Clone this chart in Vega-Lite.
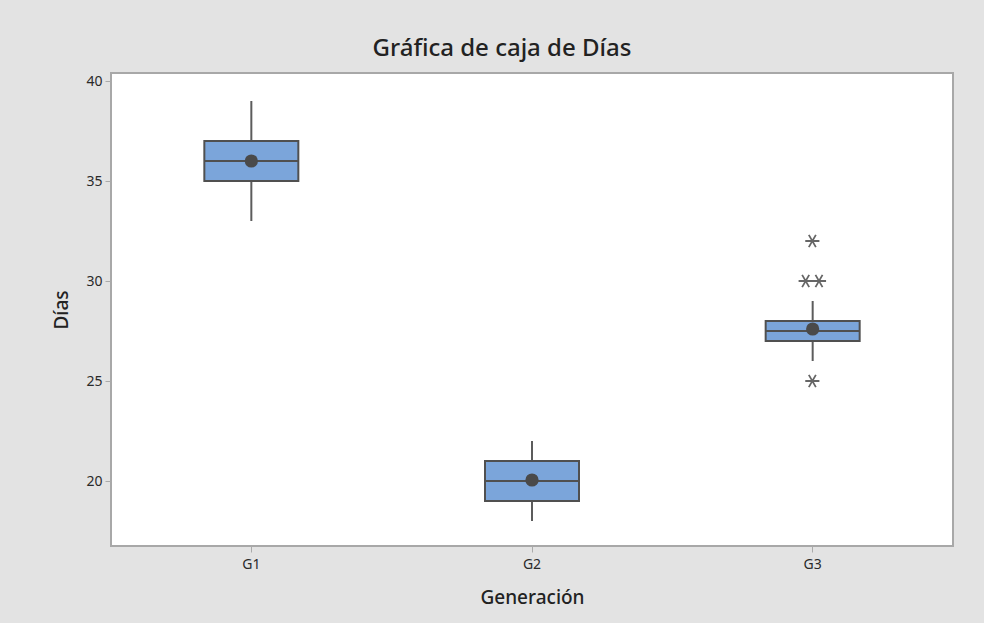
{
  "$schema": "https://vega.github.io/schema/vega-lite/v6.json",
  "width": 842,
  "height": 473,
  "autosize": {"type": "none"},
  "padding": {"left": 111, "top": 73, "right": 31, "bottom": 77},
  "background": "#e3e3e3",
  "title": {
    "text": "Gráfica de caja de Días",
    "font": "Noto Sans",
    "fontSize": 24,
    "fontWeight": 500,
    "color": "#222222",
    "anchor": "middle",
    "dx": -30,
    "offset": 12
  },
  "config": {
    "view": {"fill": "#ffffff", "stroke": "#a8a8a8", "strokeWidth": 2},
    "axis": {
      "labelFont": "Noto Sans",
      "titleFont": "Noto Sans",
      "labelColor": "#2a2a2a",
      "titleColor": "#222222",
      "labelFontSize": 14,
      "titleFontSize": 19,
      "titleFontWeight": 500,
      "tickColor": "#aaaaaa",
      "tickSize": 6,
      "domain": false,
      "grid": false
    }
  },
  "datasets": {
    "boxes": [
      {"grupo": "G1", "lo": 33, "q1": 35, "mediana": 36, "q3": 37, "hi": 39, "media": 36.0},
      {"grupo": "G2", "lo": 18, "q1": 19, "mediana": 20, "q3": 21, "hi": 22, "media": 20.05},
      {"grupo": "G3", "lo": 26, "q1": 27, "mediana": 27.5, "q3": 28, "hi": 29, "media": 27.6}
    ],
    "outliers": [
      {"grupo": "G3", "dias": 32, "empate": "C"},
      {"grupo": "G3", "dias": 30, "empate": "L"},
      {"grupo": "G3", "dias": 30, "empate": "R"},
      {"grupo": "G3", "dias": 25, "empate": "C"}
    ]
  },
  "layer": [
    {
      "data": {"name": "boxes"},
      "mark": {"type": "rule", "color": "#5c5c5c", "strokeWidth": 2},
      "encoding": {
        "x": {
          "field": "grupo", "type": "nominal",
          "scale": {"type": "band", "domain": ["G1", "G2", "G3"], "paddingInner": 0, "paddingOuter": 0},
          "axis": {"title": "Generación", "labelAngle": 0, "labelPadding": 5, "titlePadding": 17}
        },
        "y": {
          "field": "lo", "type": "quantitative",
          "scale": {"domain": [16.75, 40.4], "nice": false, "zero": false},
          "axis": {"title": "Días", "values": [20, 25, 30, 35, 40], "labelPadding": 3, "titlePadding": 14}
        },
        "y2": {"field": "hi"}
      }
    },
    {
      "data": {"name": "boxes"},
      "mark": {"type": "bar", "width": 94, "fill": "#7ba5da", "stroke": "#505050", "strokeWidth": 2},
      "encoding": {
        "x": {"field": "grupo", "type": "nominal"},
        "y": {"field": "q1", "type": "quantitative"},
        "y2": {"field": "q3"}
      }
    },
    {
      "data": {"name": "boxes"},
      "mark": {"type": "tick", "size": 94, "thickness": 2, "color": "#505050", "opacity": 1},
      "encoding": {
        "x": {"field": "grupo", "type": "nominal"},
        "y": {"field": "mediana", "type": "quantitative"}
      }
    },
    {
      "data": {"name": "boxes"},
      "mark": {"type": "point", "shape": "circle", "filled": true, "size": 175, "color": "#4a4a4a", "opacity": 1},
      "encoding": {
        "x": {"field": "grupo", "type": "nominal"},
        "y": {"field": "media", "type": "quantitative"}
      }
    },
    {
      "data": {"name": "outliers"},
      "mark": {
        "type": "point",
        "shape": "M-1,0L1,0M-0.5,-0.866L0.5,0.866M-0.5,0.866L0.5,-0.866",
        "filled": false,
        "size": 200,
        "strokeWidth": 1.8,
        "color": "#666666",
        "opacity": 1
      },
      "encoding": {
        "x": {"field": "grupo", "type": "nominal"},
        "xOffset": {"field": "empate", "type": "nominal", "scale": {"type": "point", "domain": ["L", "C", "R"], "range": [130, 150]}},
        "y": {"field": "dias", "type": "quantitative"}
      }
    }
  ]
}
